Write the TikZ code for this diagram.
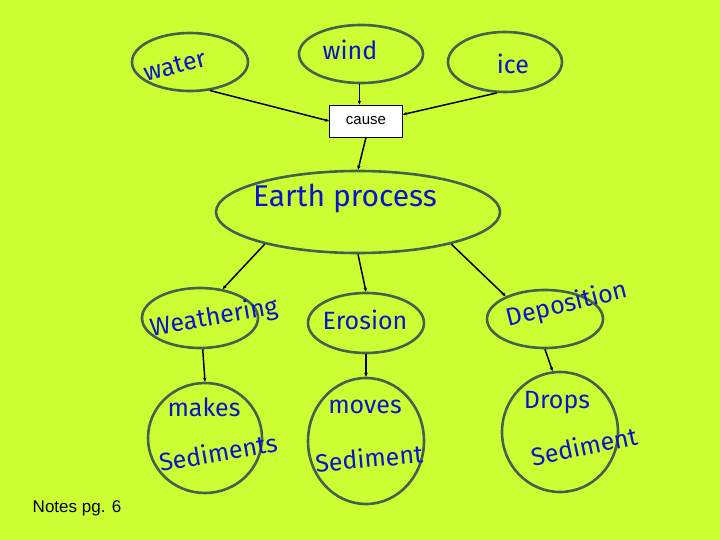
\documentclass[tikz,border=0pt]{standalone}
\usepackage{fontspec}
\setmainfont{Liberation Sans}
\newfontfamily\hand{Fira Sans}
\usepackage{xcolor}
\usetikzlibrary{arrows.meta, positioning, calc, shapes.geometric}

\definecolor{limebg}{RGB}{204,255,51}
\definecolor{rimgray}{RGB}{66,98,78}
\definecolor{inkblue}{RGB}{10,20,200}

\begin{document}
\begin{tikzpicture}[x=1pt, y=-1pt,
    bubble/.style={ellipse, draw=rimgray, line width=2.6pt, inner sep=0pt},
    hw/.style={text=inkblue, inner sep=0pt, font=\hand\fontsize{25}{27}\selectfont},
    arr/.style={draw=black, line width=1.5pt, -{Stealth[length=4pt, width=3.5pt]}}]
    % background and page size
    \fill[limebg] (0,0) rectangle (720,540);
    \useasboundingbox (0,0) rectangle (720,540);

    % top row
    \node[bubble, minimum width=116pt, minimum height=58pt] (water) at (190,62) {};
    \node[bubble, minimum width=124pt, minimum height=58pt] (wind) at (361,54) {};
    \node[bubble, minimum width=114pt, minimum height=60pt] (ice) at (505,62) {};
    \node[hw, rotate=15] (waterTxt) at (175,66) {water};
    \node[hw] (windTxt) at (350,50) {wind};
    \node[hw] (iceTxt) at (513,64) {ice};

    \node[draw=black, fill=white, line width=0.8pt, minimum width=73pt, minimum height=32pt,
        font=\fontsize{15}{17}\selectfont] (cause) at (366,121) {cause};

    % middle
    \node[bubble, minimum width=284pt, minimum height=82pt] (earth) at (358,212) {};
    \node[hw, font=\hand\fontsize{30}{32}\selectfont] (earthTxt) at (345,198) {Earth process};

    \node[bubble, minimum width=116pt, minimum height=60pt] (weath) at (200,318) {};
    \node[bubble, minimum width=116pt, minimum height=60pt] (eros) at (366,323) {};
    \node[bubble, minimum width=116pt, minimum height=58pt] (depo) at (545,319) {};
    \node[hw, rotate=10] (weathTxt) at (214,318) {Weathering};
    \node[hw] (erosTxt) at (365,320) {Erosion};
    \node[hw, rotate=14] (depoTxt) at (567,305) {Deposition};

    % bottom row
    \node[bubble, minimum width=114pt, minimum height=110pt] (makes) at (205,438) {};
    \node[bubble, minimum width=116pt, minimum height=126pt] (moves) at (366,441) {};
    \node[bubble, minimum width=116pt, minimum height=120pt] (drops) at (560,432) {};
    \node[hw] (makesTxt) at (204,407) {makes};
    \node[hw, rotate=10] (makesSed) at (218,452) {Sediments};
    \node[hw] (movesTxt) at (365,407) {moves};
    \node[hw, rotate=5] (movesSed) at (369,458) {Sediment};
    \node[hw] (dropsTxt) at (557,403) {Drops};
    \node[hw, rotate=12] (dropsSed) at (584,446) {Sediment};

    \node[font=\fontsize{17}{19}\selectfont] (notes) at (77,508) {Notes pg. 6};

    % connectors
    \draw[arr] (water.-55) -- (cause.west);
    \draw[arr] (wind.-93) -- (cause.north -| wind.-93);
    \draw[arr] (ice.-105) -- (cause.10);
    \draw[arr] (cause.south) -- (earth.north);
    \draw[arr] (earth.-161) -- (weath.52);
    \draw[arr] (earth.south) -- (eros.north);
    \draw[arr] (earth.-19) -- (depo.150);
    \draw[arr] (weath.-85) -- (makes.north);
    \draw[arr] (eros.south) -- (moves.north);
    \draw[arr] (depo.south) -- (drops.97);
\end{tikzpicture}
\end{document}
